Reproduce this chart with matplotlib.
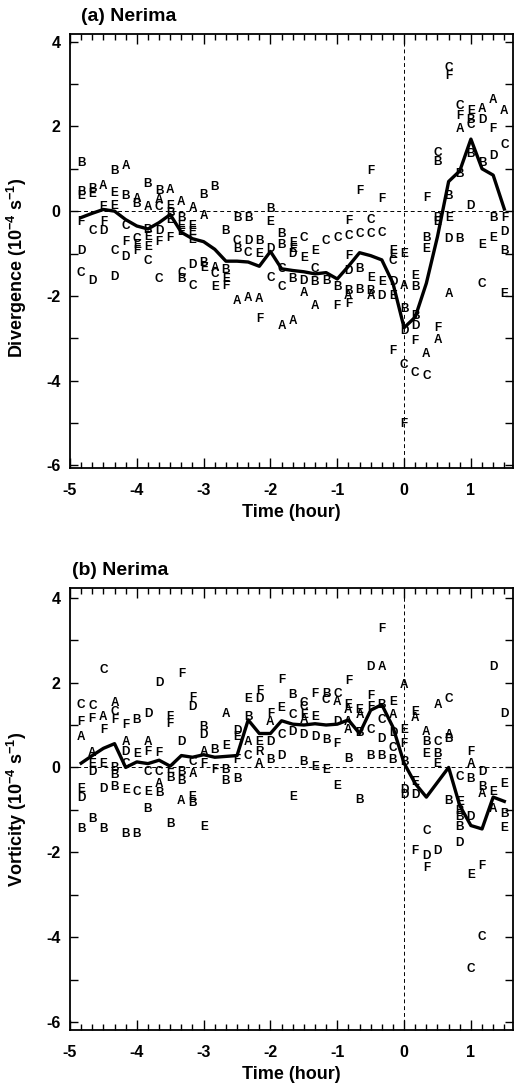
import numpy as np
import matplotlib
matplotlib.use('Agg')
import matplotlib.pyplot as plt
from matplotlib.ticker import MultipleLocator

plt.rcParams['font.family'] = ['Liberation Sans', 'DejaVu Sans']
plt.rcParams['font.weight'] = 'bold'
plt.rcParams['axes.unicode_minus'] = False
plt.rcParams['mathtext.fontset'] = 'custom'
plt.rcParams['mathtext.bf'] = 'Liberation Sans:bold'
plt.rcParams['mathtext.rm'] = 'Liberation Sans:bold'
plt.rcParams['mathtext.default'] = 'bf'

# time of each column, minutes relative to onset
minutes = list(range(-290, 100, 10))

# (a) divergence, station letters and values (1e-4 s-1) for each column
div_letters = [
    "BBEFDC", "BECD", "AEFD", "BEECD", "ABCFD", "ABCEF", "BABEEC", "BACDFC",
    "AEBEF", "ABEECB", "AEEEDC", "BABE", "BACE", "BBEF", "BCBA", "BDCA",
    "BEAF", "BEDC", "BBCCA", "EEDBA", "CEDA", "ECBA", "CB", "CBF",
    "FCFDBAF", "FCBB", "FCCEBA", "FCED", "EECDEF", "EABDCF", "EBBDFC", "FBEAC",
    "CBBEFA", "CFBEDA", "CFABB", "EBCBD", "ADBEC", "AFDBE", "ACFDBE",
]
div_values = [
    [1.14, 0.45, 0.35, -0.25, -0.95, -1.45],
    [0.52, 0.4, -0.47, -1.65],
    [0.6, 0.1, -0.25, -0.47],
    [0.94, 0.42, 0.12, -0.94, -1.55],
    [1.06, 0.35, -0.35, -0.72, -1.08],
    [0.28, 0.16, -0.65, -0.8, -0.94],
    [0.65, 0.09, -0.45, -0.62, -0.85, -1.18],
    [0.47, 0.27, 0.1, -0.47, -0.72, -1.6],
    [0.51, 0.12, -0.05, -0.22, -0.63],
    [0.21, -0.15, -0.35, -0.5, -1.45, -1.61],
    [0.08, -0.36, -0.5, -0.67, -1.26, -1.77],
    [0.38, -0.12, -1.22, -1.33],
    [0.56, -1.33, -1.49, -1.8],
    [-0.47, -1.4, -1.6, -1.77],
    [-0.16, -0.71, -0.9, -2.12],
    [-0.16, -0.71, -0.98, -2.04],
    [-0.71, -1.02, -2.08, -2.55],
    [0.04, -0.26, -0.9, -1.57],
    [-0.55, -0.8, -1.37, -1.8, -2.71],
    [-0.75, -0.9, -1.02, -1.61, -2.59],
    [-0.63, -1.1, -1.65, -1.93],
    [-0.94, -1.37, -1.68, -2.24],
    [-0.71, -1.65],
    [-0.63, -1.8, -2.24],
    [-0.24, -0.59, -1.06, -1.41, -1.89, -2.0, -2.2],
    [0.47, -0.55, -1.37, -1.85],
    [0.94, -0.2, -0.55, -1.57, -1.89, -2.0],
    [0.28, -0.51, -1.68, -2.0],
    [-0.95, -1.03, -1.18, -1.68, -2.0, -3.3],
    [-1.02, -1.77, -2.32, -2.83, -3.62, -5.03],
    [-1.53, -1.8, -2.48, -2.71, -3.07, -3.81],
    [0.32, -0.63, -0.9, -3.38, -3.89],
    [1.38, 1.15, -0.15, -0.25, -2.75, -3.03],
    [3.38, 3.2, 0.35, -0.16, -0.65, -1.96],
    [2.48, 2.24, 1.93, 0.87, -0.65],
    [2.36, 2.16, 2.04, 1.34, 0.12],
    [2.4, 2.16, 1.14, -0.79, -1.73],
    [2.63, 1.93, 1.31, -0.16, -0.63],
    [2.36, 1.57, -0.16, -0.5, -0.94, -1.96],
]
div_mean = [
    -0.15, -0.05, 0.04, 0.0, -0.2, -0.35, -0.42, -0.27, -0.08, -0.5,
    -0.65, -0.72, -0.9, -1.18, -1.18, -1.2, -1.3, -0.95, -1.36, -1.4,
    -1.43, -1.48, -1.45, -1.6, -1.3, -0.98, -1.05, -1.15, -1.7, -2.75,
    -2.5, -1.7, -0.6, 0.7, 0.95, 1.7, 1.0, 0.85, 0.05,
]

# (b) vorticity
vor_letters = [
    "CFAEDB", "CFAEDB", "CAFEDB", "ACFBBB", "FADCEB", "BECB", "DAFCEB", "DFCAB",
    "FFEBB", "FDBBA", "FDCAEB", "BDAFE", "BF", "AEBB", "DEFB", "EBAC",
    "FDERA", "FADB", "FECD", "BCDE", "CCEADB", "FEDE", "BCBE", "CADFE",
    "FEAAAB", "EABB", "DFFCB", "FABCDB", "EADCB", "AEFBDD", "EAEDF", "ABECDF",
    "ACBED", "CABB", "CEBBBD", "FABDEC", "DBAFC", "DEA", "DEBE",
]
vor_values = [
    [1.47, 1.07, 0.72, -0.5, -0.71, -1.45],
    [1.44, 1.13, 0.34, 0.09, -0.11, -1.21],
    [2.29, 1.19, 0.89, 0.09, -0.5, -1.45],
    [1.51, 1.3, 1.11, -0.02, -0.19, -0.46],
    [0.99, 0.6, 0.36, 0.09, -0.54, -1.56],
    [1.11, 0.32, -0.58, -1.56],
    [1.25, 0.6, 0.36, -0.11, -0.58, -0.98],
    [1.98, 0.34, -0.11, -0.38, -0.6],
    [1.19, 1.03, -0.07, -0.26, -1.33],
    [2.21, 0.6, -0.11, -0.31, -0.78],
    [1.63, 1.42, 0.13, -0.15, -0.7, -0.85],
    [0.95, 0.76, 0.36, 0.09, -1.41],
    [0.4, -0.07],
    [1.27, 0.5, -0.07, -0.31],
    [0.87, 0.72, 0.17, -0.27],
    [1.62, 1.19, 0.6, 0.28],
    [1.8, 1.62, 0.6, 0.36, 0.09],
    [1.27, 1.06, 0.6, 0.17],
    [2.06, 1.39, 0.76, 0.28],
    [1.7, 1.23, 0.83, -0.7],
    [1.51, 1.43, 1.23, 1.11, 0.76, 0.13],
    [1.74, 1.18, 0.72, 0.01],
    [1.72, 1.6, 0.64, -0.05],
    [1.74, 1.54, 1.07, 0.56, -0.43],
    [2.04, 1.47, 1.35, 1.07, 0.89, 0.2],
    [1.35, 1.23, 0.8, -0.76],
    [2.36, 1.68, 1.43, 0.89, 0.28],
    [3.26, 2.36, 1.47, 1.11, 0.68, 0.28],
    [1.54, 1.23, 0.8, 0.45, 0.17],
    [1.94, 0.89, 0.56, 0.13, -0.54, -0.66],
    [1.31, 1.16, -0.35, -0.66, -1.98],
    [0.83, 0.6, 0.32, -1.49, -2.08, -2.36],
    [1.47, 0.6, 0.32, 0.09, -1.96],
    [1.62, 0.76, 0.68, -0.78],
    [-0.23, -0.82, -1.02, -1.17, -1.41, -1.77],
    [0.36, 0.09, -0.27, -1.17, -2.53, -4.75],
    [-0.11, -0.47, -0.62, -2.32, -4.0],
    [2.37, -0.58, -0.98],
    [1.27, -0.39, -1.09, -1.42],
]
vor_mean = [
    0.1, 0.28, 0.45, 0.56, 0.0, 0.13, 0.09, 0.17, 0.03, 0.28,
    0.24, 0.3, 0.24, 0.26, 0.28, 1.12, 0.8, 0.8, 1.1, 1.02,
    1.0, 1.03, 1.0, 1.02, 1.12, 0.8, 1.35, 1.48, 0.95, 0.1,
    -0.38, -0.7, -0.35, 0.0, -0.9, -1.37, -1.45, -0.7, -0.8,
]


def draw_panel(ax, letters, values, mean, ylabel, title, title_x, ylim, label_y):
    hours = np.array(minutes) / 60.0
    for t, labs, vals in zip(hours, letters, values):
        for s, v in zip(labs, vals):
            ax.text(t, v, s, ha='center', va='center', fontsize=8.5,
                    fontweight='bold', clip_on=True)
    ax.plot(hours, mean, color='black', lw=2.4)
    ax.axhline(0, color='black', lw=0.7, ls=(0, (4, 3)))
    ax.axvline(0, color='black', lw=0.7, ls=(0, (4, 3)))
    ax.set_xlim(-5, 1.63)
    ax.set_ylim(*ylim)
    ax.xaxis.set_major_locator(MultipleLocator(1))
    ax.xaxis.set_minor_locator(MultipleLocator(1 / 6))
    ax.yaxis.set_major_locator(MultipleLocator(2))
    ax.yaxis.set_minor_locator(MultipleLocator(1))
    ax.tick_params(which='both', direction='in', top=True, right=True, width=1)
    ax.tick_params(axis='x', which='major', length=7, labelsize=11.5, pad=11)
    ax.tick_params(axis='x', which='minor', length=4)
    ax.tick_params(axis='y', which='both', length=6, labelsize=11.5, pad=7)
    for sp in ax.spines.values():
        sp.set_linewidth(1.3)
    ax.set_xlabel('Time (hour)', fontsize=13, fontweight='bold', labelpad=4)
    ax.set_ylabel(ylabel, fontsize=13, fontweight='bold')
    ax.yaxis.set_label_coords(-0.092, label_y)
    ax.text(title_x, 1.02, title, transform=ax.transAxes, fontsize=14,
            fontweight='bold', ha='left', va='bottom')


fig = plt.figure(figsize=(5.16, 10.91), dpi=100)
ax_a = fig.add_axes([70 / 516, 1 - 468 / 1091, 443 / 516, 434 / 1091])
ax_b = fig.add_axes([70 / 516, 1 - 1030 / 1091, 443 / 516, 442 / 1091])

draw_panel(ax_a, div_letters, div_values, div_mean,
           r'Divergence (10$^{-4}$ s$^{-1}$)', '(a) Nerima', 0.024,
           (-6.06, 4.18), 0.46)
draw_panel(ax_b, vor_letters, vor_values, vor_mean,
           r'Vorticity (10$^{-4}$ s$^{-1}$)', '(b) Nerima', 0.004,
           (-6.19, 4.23), 0.5)

fig.savefig('out.png', dpi=100)
